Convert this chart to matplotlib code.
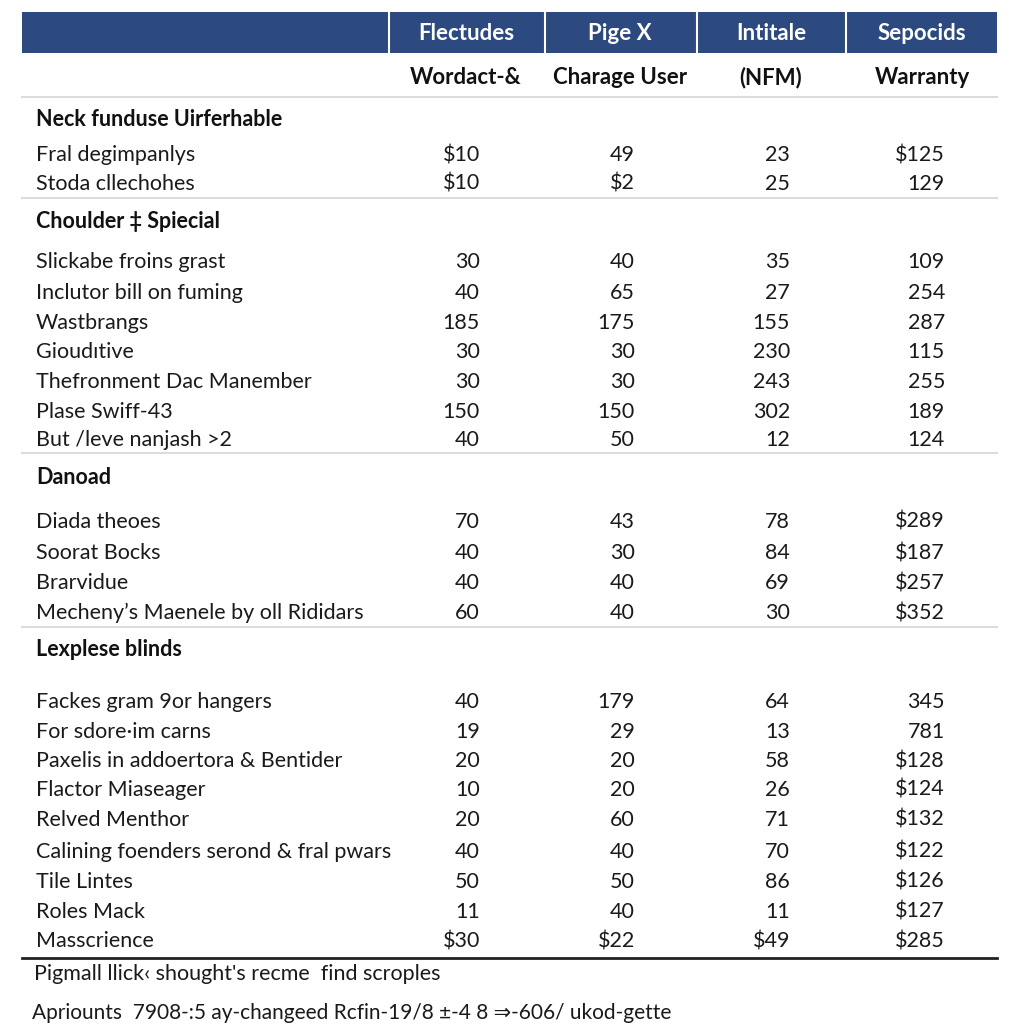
import matplotlib.pyplot as plt
from matplotlib.patches import Rectangle

plt.rcParams['font.family'] = ['Lato', 'DejaVu Sans']

headers = ["Flectudes", "Pige X", "Intitale", "Sepocids"]
subheaders = ["Wordact-&", "Charage User", "(NFM)", "Warranty"]

sections = ["Neck funduse Uirferhable", "Choulder \u2021 Spiecial", "Danoad", "Lexplese blinds"]

row_labels = [
    ["Fral degimpanlys", "Stoda cllechohes"],
    ["Slickabe froins grast", "Inclutor bill on fuming", "Wastbrangs", "Gioud\u0131tive",
     "Thefronment Dac Manember", "Plase Swiff-43", "But /leve nanjash >2"],
    ["Diada theoes", "Soorat Bocks", "Brarvidue", "Mecheny\u2019s Maenele by oll Rididars"],
    ["Fackes gram 9or hangers", "For sdore\u00b7im carns", "Paxelis in addoertora & Bentider",
     "Flactor Miaseager", "Relved Menthor", "Calining foenders serond & fral pwars",
     "Tile Lintes", "Roles Mack", "Masscrience"],
]

col1 = [["$10", "$10"],
        ["30", "40", "185", "30", "30", "150", "40"],
        ["70", "40", "40", "60"],
        ["40", "19", "20", "10", "20", "40", "50", "11", "$30"]]
col2 = [["49", "$2"],
        ["40", "65", "175", "30", "30", "150", "50"],
        ["43", "30", "40", "40"],
        ["179", "29", "20", "20", "60", "40", "50", "40", "$22"]]
col3 = [["23", "25"],
        ["35", "27", "155", "230", "243", "302", "12"],
        ["78", "84", "69", "30"],
        ["64", "13", "58", "26", "71", "70", "86", "11", "$49"]]
col4 = [["$125", "129"],
        ["109", "254", "287", "115", "255", "189", "124"],
        ["$289", "$187", "$257", "$352"],
        ["345", "781", "$128", "$124", "$132", "$122", "$126", "$127", "$285"]]

footer_lines = ["Pigmall llick\u2039 shought's recme  find scroples",
                "Apriounts  7908-:5 ay-changeed Rcfin-19/8 \u00b1-4 8 \u21d2-606/ ukod-gette"]

# === layout (pixels) ===
navy = "#2c4a7f"
left, right = 22, 997
col_edges = [389, 545, 697, 846, 997]
col_centers = [466, 620, 771, 922]
num_right = [480, 635, 790, 945]
section_y = [120, 221, 477, 650]
row_y = [[155, 184],
         [262, 293, 323, 352, 382, 412, 440],
         [522, 553, 583, 613],
         [702, 732, 761, 790, 820, 852, 882, 912, 941]]
sep_y = [97, 198, 453, 627]

fig = plt.figure(figsize=(10.24, 10.24), dpi=100)
ax = fig.add_axes([0, 0, 1, 1])
ax.set_xlim(0, 1024)
ax.set_ylim(1024, 0)
ax.axis("off")

# header band
ax.add_patch(Rectangle((left, 12), right - left, 41, color=navy, lw=0))
for x in col_edges[:-1]:
    ax.plot([x, x], [12, 53], color="white", lw=1.5)
for x, h in zip(col_centers, headers):
    ax.text(x, 33, h, color="white", fontsize=16, fontweight="bold",
            ha="center", va="center")
for x, h in zip(col_centers, subheaders):
    ax.text(x, 78, h, color="#111111", fontsize=16, fontweight="bold",
            ha="center", va="center")

for y in sep_y:
    ax.plot([left, right], [y, y], color="#dcdcdc", lw=1.5)

cols = [col1, col2, col3, col4]
for s, name in enumerate(sections):
    ax.text(36, section_y[s], name, fontsize=15.5, fontweight="bold",
            color="#111111", ha="left", va="center")
    for r, label in enumerate(row_labels[s]):
        y = row_y[s][r]
        ax.text(36, y, label, fontsize=15.5, color="#1a1a1a", ha="left", va="center")
        for c in range(4):
            ax.text(num_right[c], y, cols[c][s][r], fontsize=15.5, color="#1a1a1a",
                    ha="right", va="center")

# bottom rule and footer
ax.plot([left, right], [958, 958], color="#222222", lw=2)
ax.text(34, 974, footer_lines[0], fontsize=15.5, color="#1a1a1a", ha="left", va="center")
ax.text(32, 1013, footer_lines[1], fontsize=15, color="#1a1a1a", ha="left", va="center")

fig.savefig("out.png", dpi=100, facecolor="white")
